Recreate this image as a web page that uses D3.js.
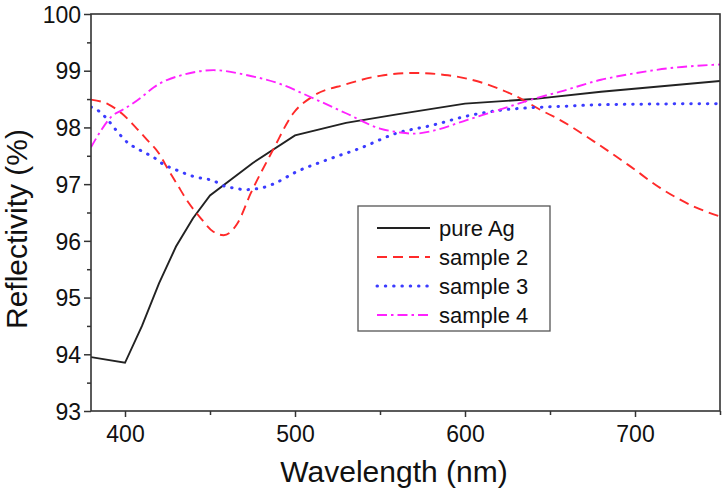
<!DOCTYPE html>
<html><head><meta charset="utf-8">
<script src="https://cdn.jsdelivr.net/npm/d3@7"></script>
<style>body{margin:0;background:#fff}svg{display:block}text{font-family:"Liberation Sans",Arial,sans-serif}</style>
</head><body><svg id="c" width="724" height="494"></svg>
<script>
const seriesNames = ["pure Ag", "sample 2", "sample 3", "sample 4"];
const pureAg = [[380,93.95],[400,93.85],[410,94.5],[420,95.25],[430,95.9],[440,96.4],[450,96.8],[475,97.37],[500,97.86],[530,98.08],[560,98.23],[600,98.42],[640,98.5],[680,98.63],[750,98.82]];
const sample2 = [[380,98.49],[390,98.41],[398,98.25],[406,98.01],[413,97.78],[420,97.54],[425,97.28],[431,96.98],[437,96.69],[444,96.42],[452,96.16],[458,96.1],[466,96.3],[474,96.84],[487,97.6],[499,98.25],[510,98.54],[530,98.76],[550,98.91],[570,98.96],[590,98.92],[611,98.78],[630,98.55],[645,98.3],[656,98.13],[676,97.75],[696,97.34],[715,96.93],[735,96.6],[750,96.43]];
const sample3 = [[380,98.36],[385,98.28],[390,98.13],[394,97.98],[398,97.84],[402,97.72],[407,97.63],[412,97.55],[417,97.47],[421,97.38],[426,97.3],[431,97.24],[436,97.18],[441,97.13],[446,97.1],[451,97.07],[460,96.95],[465,96.93],[470,96.9],[475,96.91],[480,96.93],[487,97.0],[501,97.22],[519,97.43],[538,97.63],[560,97.9],[581,98.04],[601,98.2],[620,98.3],[640,98.35],[656,98.37],[680,98.4],[750,98.42]];
const sample4 = [[380,97.65],[386,97.95],[392,98.19],[398,98.3],[404,98.41],[410,98.54],[417,98.71],[425,98.84],[432,98.91],[452,99.01],[472,98.92],[491,98.77],[511,98.51],[530,98.25],[550,97.98],[562,97.91],[570,97.89],[581,97.94],[601,98.13],[620,98.31],[640,98.5],[656,98.63],[680,98.84],[699,98.95],[719,99.04],[750,99.11]];
const xTicks = [400,500,600,700];
const yTicks = [93,94,95,96,97,98,99,100];

const colors = ["#222222","#ff2a2a","#3b3bff","#ff22ff"];
const dashes = [null,"10,6","0.5,7.8","10,4,2.5,4"];
const widths = [1.9,1.9,3,1.9];
const data = [pureAg, sample2, sample3, sample4];

const svg = d3.select("#c");
const L=91, R=720, T=14, B=411;
const x = d3.scaleLinear().domain([380,750]).range([L,R]);
const y = d3.scaleLinear().domain([93,100]).range([B,T]);

svg.append("clipPath").attr("id","clip").append("rect").attr("x",L).attr("y",T).attr("width",R-L).attr("height",B-T);
const g = svg.append("g");

const line = d3.line().x(d=>x(d[0])).y(d=>y(d[1])).curve(d3.curveMonotoneX);
const lineLin = d3.line().x(d=>x(d[0])).y(d=>y(d[1]));
data.forEach((s,i)=>{
  g.append("path").attr("d", i===0 ? lineLin(s) : line(s))
   .attr("fill","none").attr("stroke",colors[i]).attr("stroke-width",widths[i])
   .attr("stroke-linecap", i===2?"round":"butt")
   .attr("stroke-dasharray",dashes[i]).attr("clip-path","url(#clip)");
});

const axCol="#333";
const xAxis = svg.append("g").attr("transform",`translate(0,${B})`)
  .call(d3.axisBottom(x).tickValues(xTicks).tickSize(6).tickPadding(9).tickFormat(d3.format("d")));
const xMinor = svg.append("g").attr("transform",`translate(0,${B})`)
  .call(d3.axisBottom(x).tickValues([450,550,650,750]).tickSize(4).tickFormat(""));
const yAxis = svg.append("g").attr("transform",`translate(${L},0)`)
  .call(d3.axisLeft(y).tickValues(yTicks).tickSize(7).tickPadding(3).tickFormat(d3.format("d")));
const yMinor = svg.append("g").attr("transform",`translate(${L},0)`)
  .call(d3.axisLeft(y).tickValues([93.5,94.5,95.5,96.5,97.5,98.5,99.5]).tickSize(4).tickFormat(""));
[xAxis,xMinor,yAxis,yMinor].forEach(a=>{
  a.select(".domain").remove();
  a.selectAll("line").attr("stroke",axCol).attr("stroke-width",1.5);
  a.selectAll("text").attr("fill","#111").style("font-size","23px").style("font-family","'Liberation Sans',Arial,sans-serif");
});
yAxis.selectAll("text").attr("dy","0.36em");
svg.append("rect").attr("x",L).attr("y",T).attr("width",R-L).attr("height",B-T)
  .attr("fill","none").attr("stroke",axCol).attr("stroke-width",1.6);

svg.append("text").attr("x",394).attr("y",482).attr("text-anchor","middle")
  .style("font-size","30px").attr("fill","#111").text("Wavelength (nm)");
svg.append("text").attr("transform",`translate(27,229) rotate(-90)`).attr("text-anchor","middle")
  .style("font-size","30px").attr("fill","#111").text("Reflectivity (%)");

const lg = svg.append("g");
lg.append("rect").attr("x",358).attr("y",206).attr("width",192).attr("height",125)
  .attr("fill","#fff").attr("stroke","#555").attr("stroke-width",1.3);
seriesNames.forEach((n,i)=>{
  const yy = 228 + i*29;
  lg.append("line").attr("x1",377).attr("x2",430).attr("y1",yy).attr("y2",yy)
    .attr("stroke",colors[i]).attr("stroke-width",widths[i]).attr("stroke-dasharray",dashes[i])
    .attr("stroke-linecap", i===2?"round":"butt");
  lg.append("text").attr("x",439).attr("y",yy).attr("dy","0.35em").style("font-size","22px").attr("fill","#111").text(n);
});
</script></body></html>
